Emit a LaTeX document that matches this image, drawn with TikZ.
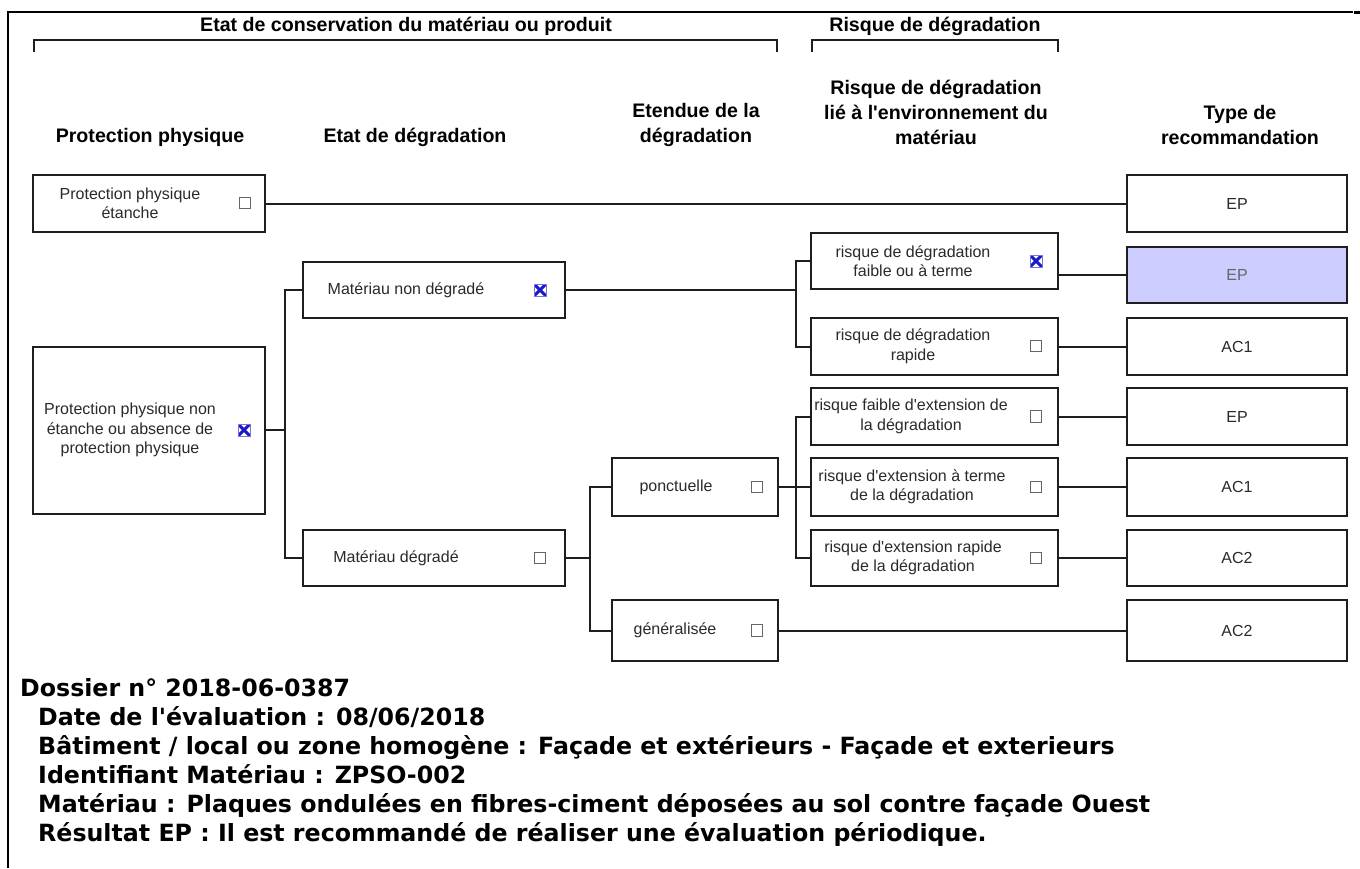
\documentclass[tikz,border=0pt]{standalone}
\usepackage{fontspec}
\setmainfont{Liberation Sans}[Ligatures=TeXOff]
\newfontfamily\verd{DejaVu Sans}[Ligatures=TeXOff]
\definecolor{lc}{HTML}{1E1E1E}
\definecolor{tc}{HTML}{2A2A2A}
\definecolor{selfill}{HTML}{CCCCFF}
\definecolor{xblue}{HTML}{1A1AC8}
\begin{document}
\begin{tikzpicture}[x=1pt,y=-1pt,
  box/.style={draw=lc, line width=2pt, fill=white, inner sep=0pt},
  btxt/.style={font=\fontsize{16}{19.5}\selectfont, text=tc, align=center, inner sep=0pt},
  htxt/.style={font=\fontsize{19.6}{25}\selectfont\bfseries, align=center, inner sep=0pt},
  chk/.style={draw=gray!80!black, line width=1.2pt, minimum size=11.5pt, inner sep=0pt},
  xchk/.style={draw=xblue!60, line width=0.8pt, minimum size=12pt, inner sep=0pt,
    path picture={\draw[xblue, line width=3pt]
      (path picture bounding box.north west) -- (path picture bounding box.south east)
      (path picture bounding box.north east) -- (path picture bounding box.south west);}},
  conn/.style={draw=lc, line width=2pt},
  info/.style={font=\verd\fontsize{23.7}{29}\selectfont\bfseries, anchor=base west, inner sep=0pt},
  tbox/.style={box, minimum width=220pt, font=\fontsize{16}{19.5}\selectfont, text=tc}
]
\useasboundingbox (0,0) rectangle (1360,868);
\fill[white] (0,0) rectangle (1360,868);

% frame
\draw[line width=2pt] (8,868) -- (8,11.5) -- (1353,11.5);
\fill[black] (1354,11) rectangle (1360,14);

% group headers
\node[htxt] (g1) at (406,26) {Etat de conservation du matériau ou produit};
\node[htxt] (g2) at (935,26) {Risque de dégradation};
\draw[lc, line width=2pt] (34,52) -- (34,39.5) -- (777,39.5) -- (777,52);
\draw[lc, line width=2pt] (812,52) -- (812,39.5) -- (1058,39.5) -- (1058,52);

% column headers
\node[htxt] (h1) at (150,137) {Protection physique};
\node[htxt] (h2) at (415,137) {Etat de dégradation};
\node[htxt] (h3) at (696,124.5) {Etendue de la\\dégradation};
\node[htxt] (h4) at (936,112) {Risque de dégradation\\lié à l'environnement du\\matériau};
\node[htxt] (h5) at (1240,124.5) {Type de\\recommandation};

% boxes
\node[box, minimum width=232pt, minimum height=57pt] (b1) at (149,203.5) {};
\node[btxt] (b1t) at (130,203.5) {Protection physique\\étanche};
\node[chk] (b1c) at (245,203) {};

\node[box, minimum width=232pt, minimum height=167pt] (b2) at (149,430) {};
\node[btxt] (b2t) at (130,430) {Protection physique non\\étanche ou absence de\\protection physique};
\node[xchk] (b2c) at (244,430) {};

\node[box, minimum width=262pt, minimum height=56pt] (b3) at (434,290) {};
\node[btxt] (b3t) at (406,290) {Matériau non dégradé};
\node[xchk] (b3c) at (540,290) {};

\node[box, minimum width=262pt, minimum height=56pt] (b4) at (434,558) {};
\node[btxt] (b4t) at (396,558) {Matériau dégradé};
\node[chk] (b4c) at (540,558) {};

\node[box, minimum width=166pt, minimum height=58pt] (b5) at (695,487) {};
\node[btxt] (b5t) at (676,487) {ponctuelle};
\node[chk] (b5c) at (757,487) {};

\node[box, minimum width=166pt, minimum height=61pt] (b6) at (695,630.5) {};
\node[btxt] (b6t) at (675,630.5) {généralisée};
\node[chk] (b6c) at (757,630.5) {};

\node[box, minimum width=247pt, minimum height=56pt] (b7) at (934.5,261) {};
\node[btxt] (b7t) at (913,261) {risque de dégradation\\faible ou à terme};
\node[xchk] (b7c) at (1036,261) {};

\node[box, minimum width=247pt, minimum height=57pt] (b8) at (934.5,346.5) {};
\node[btxt] (b8t) at (913,346.5) {risque de dégradation\\rapide};
\node[chk] (b8c) at (1036,346) {};

\node[box, minimum width=247pt, minimum height=57pt] (b9) at (934.5,416.5) {};
\node[btxt] (b9t) at (911,416.5) {risque faible d'extension de\\la dégradation};
\node[chk] (b9c) at (1036,416.5) {};

\node[box, minimum width=247pt, minimum height=58pt] (b10) at (934.5,487) {};
\node[btxt] (b10t) at (912,487) {risque d'extension à terme\\de la dégradation};
\node[chk] (b10c) at (1036,487) {};

\node[box, minimum width=247pt, minimum height=56pt] (b11) at (934.5,558) {};
\node[btxt] (b11t) at (913,558) {risque d'extension rapide\\de la dégradation};
\node[chk] (b11c) at (1036,558) {};

% recommendation boxes
\node[tbox, minimum height=57pt] (t1) at (1237,203.5) {EP};
\node[tbox, minimum height=56pt, fill=selfill, text=gray!80!black] (t2) at (1237,275) {EP};
\node[tbox, minimum height=57pt] (t3) at (1237,346.5) {AC1};
\node[tbox, minimum height=57pt] (t4) at (1237,416.5) {EP};
\node[tbox, minimum height=58pt] (t5) at (1237,487) {AC1};
\node[tbox, minimum height=56pt] (t6) at (1237,558) {AC2};
\node[tbox, minimum height=61pt] (t7) at (1237,630.5) {AC2};

% connectors
\coordinate (j1) at (285,430);
\coordinate (j2) at (796,290);
\coordinate (j3) at (590,558);
\coordinate (j4) at (796,487);
\draw[conn] (b1.east) -- (t1.west);
\draw[conn] (b2.east) -- (j1);
\draw[conn] (b3.west) -| (j1) |- (b4.west);
\draw[conn] (b3.east) -- (j2);
\draw[conn] (b7.west) -| (j2) |- (b8.west);
\draw[conn] (b4.east) -- (j3);
\draw[conn] (b5.west) -| (j3) |- (b6.west);
\draw[conn] (b5.east) -- (b10.west);
\draw[conn] (b9.west) -| (j4) |- (b11.west);
\draw[conn] (b6.east) -- (t7.west);
\draw[conn] (t2.west) -- (t2.west -| b7.east);
\draw[conn] (b8.east) -- (t3.west);
\draw[conn] (b9.east) -- (t4.west);
\draw[conn] (b10.east) -- (t5.west);
\draw[conn] (b11.east) -- (t6.west);

% info text
\node[info] (i1) at (20,696) {Dossier n° 2018-06-0387};
\node[info] (i2) at (38,725) {Date de l'évaluation : 08/06/2018};
\node[info] (i3) at (38,754) {Bâtiment / local ou zone homogène : Façade et extérieurs - Façade et exterieurs};
\node[info] (i4) at (38,783) {Identifiant Matériau : ZPSO-002};
\node[info] (i5) at (38,812) {Matériau : Plaques ondulées en fibres-ciment déposées au sol contre façade Ouest};
\node[info] (i6) at (38,841) {Résultat EP : Il est recommandé de réaliser une évaluation périodique.};
\end{tikzpicture}
\end{document}
